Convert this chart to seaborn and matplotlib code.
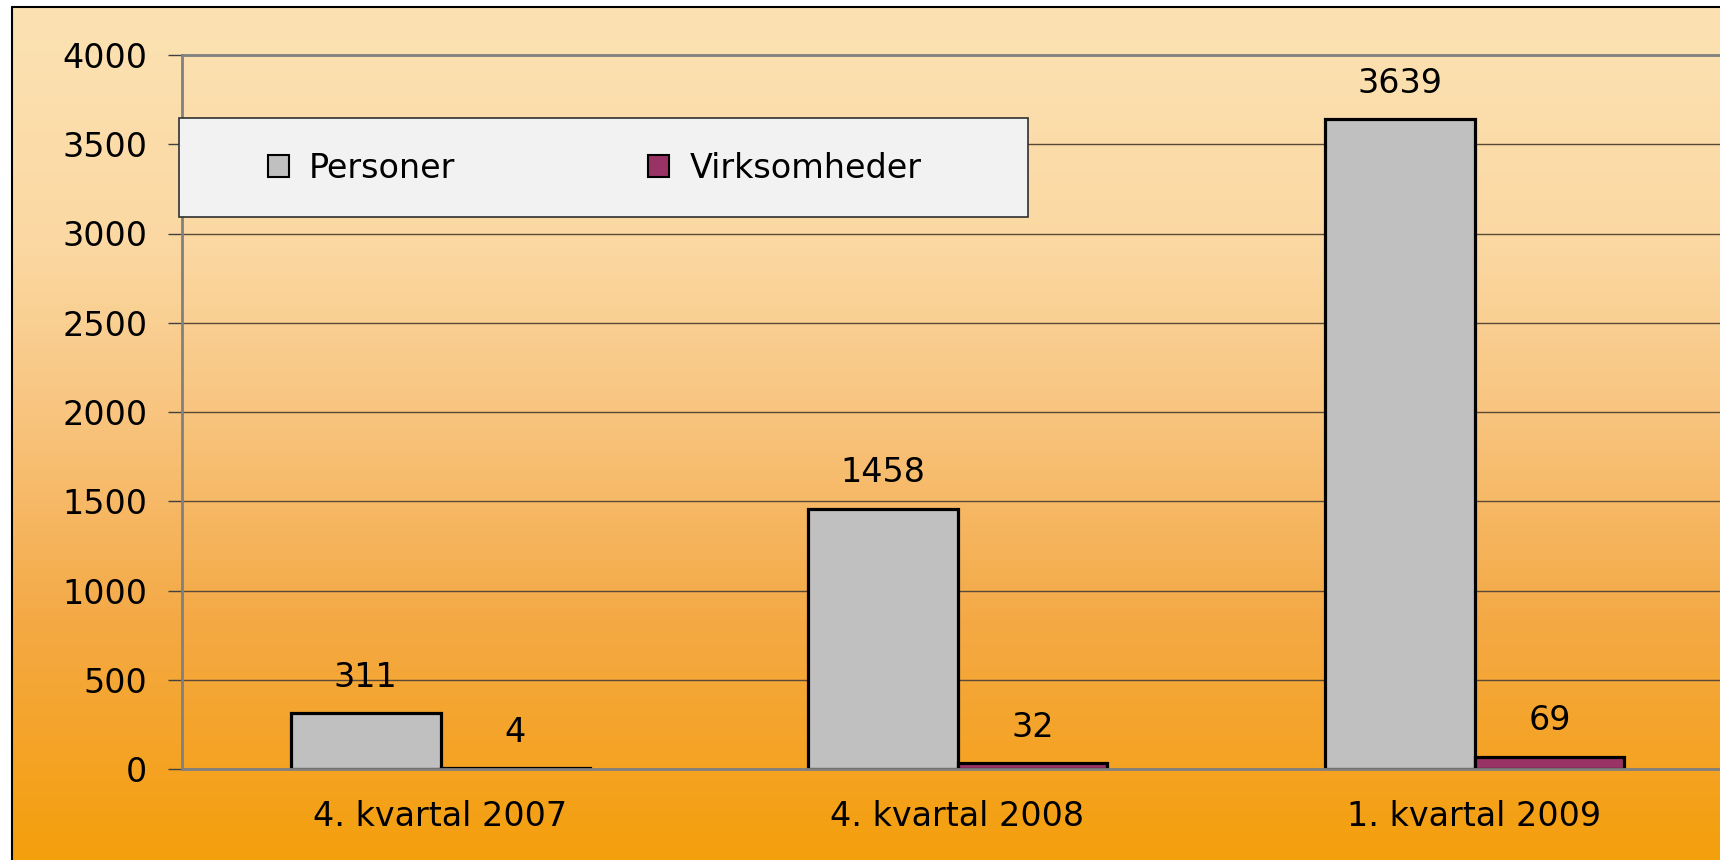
import numpy as np
import pandas as pd
import seaborn as sns
import matplotlib.pyplot as plt
from matplotlib.colors import LinearSegmentedColormap
from matplotlib.patches import Rectangle

# data
categories = ['4. kvartal 2007', '4. kvartal 2008', '1. kvartal 2009']
personer = [311, 1458, 3639]
virksomheder = [4, 32, 69]
series_names = ['Personer', 'Virksomheder']
yticks = [0, 500, 1000, 1500, 2000, 2500, 3000, 3500, 4000]

df = pd.DataFrame({
    'kategori': categories * 2,
    'antal': personer + virksomheder,
    'serie': [series_names[0]] * 3 + [series_names[1]] * 3,
})

sns.set_style('white')
plt.rcParams['font.family'] = ['DejaVu Sans']
plt.rcParams['text.color'] = 'black'
plt.rcParams['xtick.labelcolor'] = 'black'
plt.rcParams['ytick.labelcolor'] = 'black'
fs = 24

fig = plt.figure(figsize=(17.2, 8.6), dpi=100)
fig.patch.set_facecolor('white')

# gradient background (light peach at top -> orange at bottom)
bg = fig.add_axes([12 / 1720, 0, 1 - 12 / 1720, 853 / 860], zorder=-10)
grad_cmap = LinearSegmentedColormap.from_list('bg', [
    (0.0, '#FCE2B3'), (0.28, '#FBD8A2'), (0.48, '#F8C47E'),
    (0.72, '#F4A945'), (1.0, '#F49F0C')])
grad = np.linspace(0, 1, 256).reshape(-1, 1)
bg.imshow(grad, aspect='auto', cmap=grad_cmap, extent=[0, 1, 0, 1], origin='upper')
bg.set_xlim(0, 1)
bg.set_ylim(0, 1)
bg.axis('off')
# frame lines on the left and top
fig.add_artist(plt.Line2D([12 / 1720, 12 / 1720], [0, 853 / 860], color='black', lw=1.5))
fig.add_artist(plt.Line2D([12 / 1720, 1], [853 / 860, 853 / 860], color='black', lw=1.5))

ax = fig.add_axes([182 / 1720, 91 / 860, 1551 / 1720, 714 / 860])
ax.patch.set_alpha(0)

palette = {'Personer': '#C0C0C0', 'Virksomheder': '#993366'}
sns.barplot(data=df, x='kategori', y='antal', hue='serie', order=categories,
            hue_order=series_names, palette=palette, width=0.58, saturation=1,
            edgecolor='black', linewidth=2.3, legend=False, ax=ax, zorder=3)

for cont in ax.containers:
    ax.bar_label(cont, labels=[f'{int(v)}' for v in cont.datavalues],
                 padding=14, fontsize=fs, color='black')

ax.set_xlim(-0.5, 2.5)
ax.set_ylim(0, 4000)
ax.set_yticks(yticks)
ax.set_yticklabels([str(t) for t in yticks], fontsize=fs)
ax.set_xticks(range(3))
ax.set_xticklabels(categories, fontsize=fs)
ax.set_xticks([-0.5, 0.5, 1.5, 2.5], minor=True)
ax.tick_params(axis='x', which='major', length=0, pad=22)
ax.tick_params(axis='x', which='minor', length=8, width=1, color='#404040', direction='out')
ax.tick_params(axis='y', which='major', length=10, width=1, color='#404040',
               direction='out', pad=15, left=True)
ax.set_xlabel('')
ax.set_ylabel('')

ax.yaxis.grid(True, color='#5a4a35', lw=1)
ax.set_axisbelow(True)
for side in ['left', 'top', 'bottom']:
    ax.spines[side].set_visible(True)
    ax.spines[side].set_color('#808080')
ax.spines['left'].set_linewidth(2)
ax.spines['top'].set_linewidth(2)
ax.spines['bottom'].set_linewidth(2)
ax.spines['bottom'].set_zorder(5)
ax.spines['right'].set_visible(False)

# legend box
box = Rectangle((179 / 1720, (860 - 217) / 860), (1028 - 179) / 1720, 99 / 860,
                transform=fig.transFigure, facecolor='#F2F2F2', edgecolor='#303030',
                lw=1.2, zorder=20)
fig.add_artist(box)
handles = [Rectangle((0, 0), 1, 1, facecolor=palette[n], edgecolor='black', lw=1.5)
           for n in series_names]
leg = fig.legend(handles, series_names, loc='center left',
                 bbox_to_anchor=(251 / 1720, (860 - 168) / 860), borderpad=0,
                 ncol=2, frameon=False, fontsize=fs, handlelength=0.63, handleheight=0.63,
                 handletextpad=0.6, columnspacing=5.8)
leg.set_zorder(21)

fig.savefig('out.png', dpi=100)
